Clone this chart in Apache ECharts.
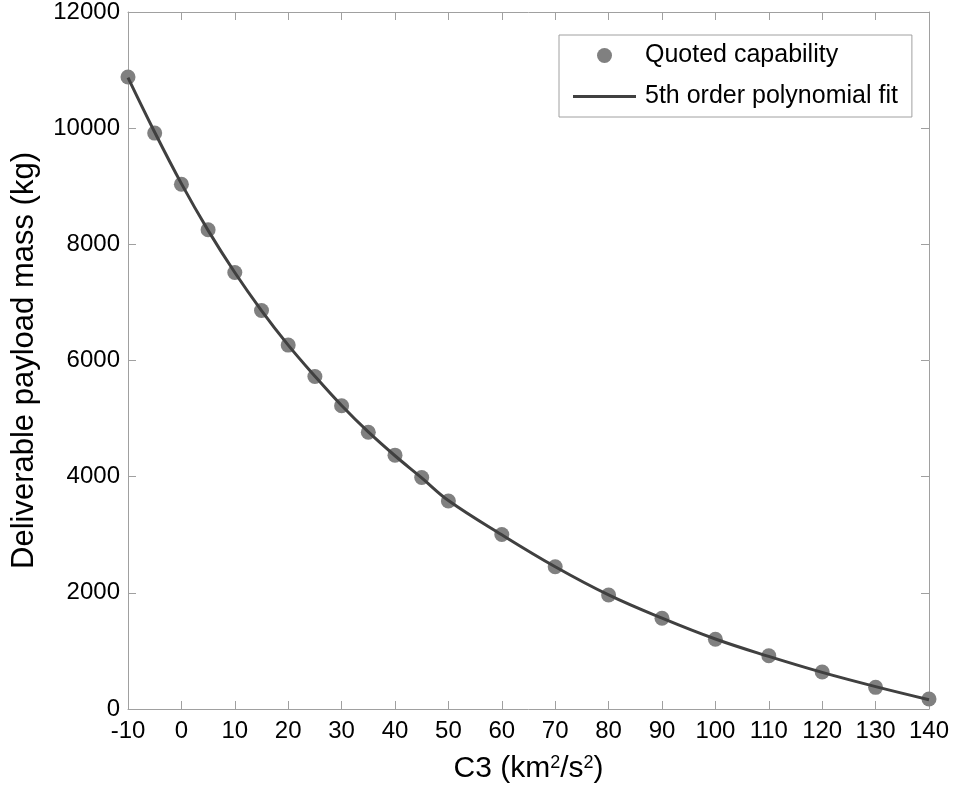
<!DOCTYPE html>
<html>
<head>
<meta charset="utf-8">
<script src="https://cdn.jsdelivr.net/npm/echarts@6/dist/echarts.min.js"></script>
<style>
  html, body { margin: 0; padding: 0; background: #fff; }
  #chart { width: 962px; height: 794px; }
</style>
</head>
<body>
<div id="chart"></div>
<script>
// C3 values (km^2/s^2)
const c3 = [-10, -5, 0, 5, 10, 15, 20, 25, 30, 35, 40, 45, 50, 60, 70, 80, 90, 100, 110, 120, 130, 140];
// quoted payload capability (kg)
const quoted = [10880, 9915, 9035, 8250, 7515, 6860, 6265, 5725, 5220, 4765, 4370, 3985, 3580, 3005, 2450, 1963, 1562, 1200, 918, 637, 373, 172];
// 5th order polynomial fit at the same C3 values
const fit = [10870, 9930, 9045, 8240, 7515, 6860, 6265, 5730, 5225, 4770, 4360, 3980, 3590, 3000, 2450, 1965, 1565, 1205, 905, 630, 385, 160];
const xTicks = [-10, 140, 10];
const yTicks = [0, 12000, 2000];

const font = 'Liberation Sans, Arial, sans-serif';
const gridColor = '#a0a0a0';

const chart = echarts.init(document.getElementById('chart'));

const axisCommon = {
    axisLine: {show: true, onZero: false, lineStyle: {color: gridColor, width: 1}},
    axisTick: {show: true, inside: true, length: 8, lineStyle: {color: gridColor}},
    splitLine: {show: false}
};

const option = {
    animation: false,
    backgroundColor: '#fff',
    grid: {left: 128, right: 33, top: 12, bottom: 85},
    legend: {
        orient: 'vertical',
        left: 559,
        top: 35,
        padding: [8, 14, 8, 14],
        itemGap: 16,
        itemWidth: 63,
        itemHeight: 22,
        borderColor: gridColor,
        borderWidth: 1,
        textStyle: {fontFamily: font, fontSize: 25, color: '#000', padding: [0, 0, 0, 4]},
        data: [
            {name: 'Quoted capability', icon: 'path://M0,0 M63,22 M24,11 a7.5,7.5 0 1,0 15,0 a7.5,7.5 0 1,0 -15,0 Z'},
            {name: '5th order polynomial fit', icon: 'path://M0,0 M63,22 M0,9.5 L63,9.5 L63,12.5 L0,12.5 Z'}
        ]
    },
    xAxis: [
        Object.assign({
            type: 'value',
            position: 'bottom',
            min: xTicks[0], max: xTicks[1], interval: xTicks[2],
            name: 'C3 (km{sup|2}/s{sup|2})',
            nameLocation: 'middle',
            nameGap: 45,
            nameTextStyle: {
                fontFamily: font, fontSize: 30, color: '#000',
                rich: {sup: {fontFamily: font, fontSize: 18, color: '#000', verticalAlign: 'top', padding: [0, 0, 12, 0]}}
            },
            axisLabel: {fontFamily: font, fontSize: 24, color: '#000', margin: 10, formatter: v => String(v)}
        }, axisCommon),
        Object.assign({
            type: 'value',
            position: 'top',
            min: xTicks[0], max: xTicks[1], interval: xTicks[2],
            axisLabel: {show: false}
        }, axisCommon)
    ],
    yAxis: [
        Object.assign({
            type: 'value',
            position: 'left',
            min: yTicks[0], max: yTicks[1], interval: yTicks[2],
            name: 'Deliverable payload mass (kg)',
            nameLocation: 'middle',
            nameGap: 88,
            nameTextStyle: {fontFamily: font, fontSize: 31, color: '#000'},
            axisLabel: {fontFamily: font, fontSize: 24, color: '#000', margin: 8, formatter: v => String(v)}
        }, axisCommon),
        Object.assign({
            type: 'value',
            position: 'right',
            min: yTicks[0], max: yTicks[1], interval: yTicks[2],
            axisLabel: {show: false}
        }, axisCommon)
    ],
    series: [
        {
            name: 'Quoted capability',
            type: 'scatter',
            symbol: 'circle',
            symbolSize: 15,
            itemStyle: {color: '#808080', opacity: 1},
            data: c3.map((x, i) => [x, quoted[i]]),
            z: 2
        },
        {
            name: '5th order polynomial fit',
            type: 'line',
            smooth: 0.4,
            symbol: 'none',
            showSymbol: false,
            lineStyle: {color: '#404040', width: 3},
            itemStyle: {color: '#404040'},
            data: c3.map((x, i) => [x, fit[i]]),
            z: 3
        }
    ]
};

chart.setOption(option);
</script>
</body>
</html>
